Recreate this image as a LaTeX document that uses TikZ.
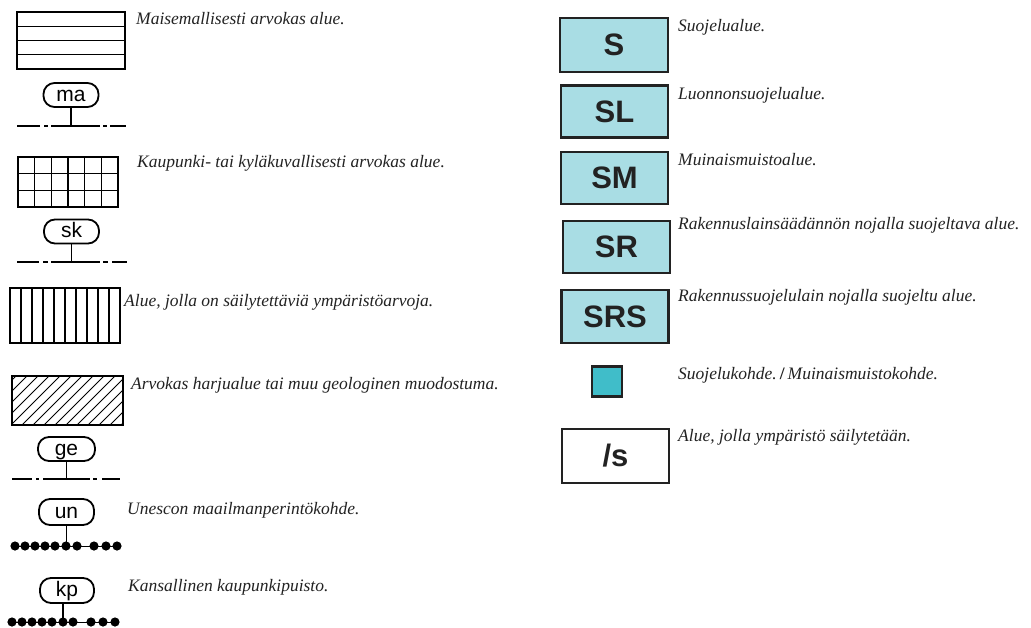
\documentclass[tikz,border=0pt]{standalone}
\usepackage{fontspec}
\setmainfont{Liberation Serif}
\setsansfont{Liberation Sans}
\definecolor{boxblue}{HTML}{A9DDE4}
\definecolor{ptblue}{HTML}{40BDC9}
\definecolor{ink}{HTML}{222222}
\begin{document}
\begin{tikzpicture}[x=1pt,y=-1pt,
 legtext/.style={anchor=west, font=\fontsize{17.5}{20}\selectfont\itshape, text=ink, inner sep=0pt},
 pattline/.style={line width=1.4pt},
 oval/.style={draw, line width=1.8pt, rounded corners=11pt, minimum width=55pt, minimum height=24pt, inner sep=0pt, text height=12pt, text depth=0pt, font=\sffamily\fontsize{21}{24}\selectfont},
 codebox/.style={draw=ink, line width=2.2pt, fill=boxblue, minimum width=107pt, minimum height=52pt, inner sep=0pt, font=\sffamily\bfseries\upshape\fontsize{31}{34}\selectfont, text=ink},
 bline/.style={line width=2pt},
 stemline/.style={line width=1.8pt},
 dotline/.style={line width=1pt},
]
\useasboundingbox (0,0) rectangle (1031,627);

% ---- horizontal strip box
\draw[pattline] (17,12) rectangle (125,69);
\foreach \k in {1,2,3} \draw[pattline] (17,{12+57*\k/4}) -- (125,{12+57*\k/4});
\node[legtext] (t1) at (136,19) {Maisemallisesti arvokas alue.};

% ma
\node[oval] (ma) at (71,95) {ma};
\coordinate (maL) at (71,126);
\draw[bline] (17,126) -- (40,126) (44,126) -- (48,126) (51,126) -- (100,126) (103,126) -- (107,126) (110,126) -- (126,126);
\draw[stemline] (ma.south) -- (maL);

% ---- grid box
\draw[pattline] (18,157) rectangle (118,207);
\foreach \k in {1,...,5} \draw[pattline] ({18+100*\k/6},157) -- ({18+100*\k/6},207);
\foreach \k in {1,2} \draw[pattline] (18,{157+50*\k/3}) -- (118,{157+50*\k/3});
\node[legtext] (t2) at (137,163) {Kaupunki- tai kyläkuvallisesti arvokas alue.};

% sk
\node[oval] (sk) at (71.5,231.5) {sk};
\coordinate (skL) at (71.5,262);
\draw[bline] (17,262) -- (39,262) (43,262) -- (48,262) (51,262) -- (100,262) (103,262) -- (108,262) (112,262) -- (127,262);
\draw[stemline] (sk.south) -- (skL);

% ---- vertical stripes box
\draw[pattline] (10,288) rectangle (120,343);
\foreach \k in {1,...,9} \draw[pattline] ({10+11*\k},288) -- ({10+11*\k},343);
\node[legtext] (t3) at (124,302) {Alue, jolla on säilytettäviä ympäristöarvoja.};

% ---- hatched box
\begin{scope}
\clip (12,376) rectangle (123,425);
\foreach \x in {-44,-33,...,125} \draw[line width=1pt] (\x,425) -- ({\x+49},376);
\end{scope}
\draw[pattline] (12,376) rectangle (123,425);
\node[legtext] (t4) at (131,385) {Arvokas harjualue tai muu geologinen muodostuma.};

% ge
\node[oval, minimum width=57pt] (ge) at (66.5,449) {ge};
\coordinate (geL) at (66.5,479);
\draw[bline] (12,479) -- (32,479) (36,479) -- (39,479) (43,479) -- (90,479) (93,479) -- (97,479) (102,479) -- (120,479);
\draw[stemline] (ge.south) -- (geL);

% un
\node[oval, minimum height=26pt] (un) at (66.5,512) {un};
\coordinate (unL) at (66.5,546);
\draw[dotline] (12,546) -- (121,546);
\foreach \x in {15,25,35,45,55,66,77,94,106,117} \fill (\x,546) circle (4.6);
\draw[stemline] (un.south) -- (unL);
\node[legtext] (t5) at (127,510) {Unescon maailmanperintökohde.};

% kp
\node[oval, minimum width=54pt, minimum height=25pt] (kp) at (67,590.5) {kp};
\coordinate (kpL) at (63,622);
\draw[dotline] (9,622) -- (119,622);
\foreach \x in {12,22,32,42,52,63,73,91,103,115} \fill (\x,622) circle (4.6);
\draw[stemline] (kp.south -| kpL) -- (kpL);
\node[legtext] (t6) at (128,587) {Kansallinen kaupunkipuisto.};

% ---- right column
\node[codebox, minimum width=108pt, minimum height=54pt] (S) at (614,45) {S};
\node[legtext] (r1) at (678,27) {Suojelualue.};
\node[codebox] (SL) at (614.5,111.5) {SL};
\node[legtext] (r2) at (678,95) {Luonnonsuojelualue.};
\node[codebox] (SM) at (614.5,178) {SM};
\node[legtext] (r3) at (678,160) {Muinaismuistoalue.};
\node[codebox] (SR) at (616.5,247) {SR};
\node[legtext] (r4) at (678,225) {Rakennuslainsäädännön nojalla suojeltava alue.};
\node[codebox, minimum height=53pt] (SRS) at (615,316.5) {SRS};
\node[legtext] (r5) at (678,297) {Rakennussuojelulain nojalla suojeltu alue.};
\node[draw=ink, line width=2.2pt, fill=ptblue, minimum size=30pt, inner sep=0pt] (pt) at (607,381.5) {};
\node[legtext] (r6) at (678,375) {Suojelukohde.\,\textup{\textbf{/}}\,Muinaismuistokohde.};
\node[codebox, fill=white, minimum height=54pt] (s) at (615.5,456) {/s};
\node[legtext] (r7) at (678,437) {Alue, jolla ympäristö säilytetään.};
\end{tikzpicture}
\end{document}
